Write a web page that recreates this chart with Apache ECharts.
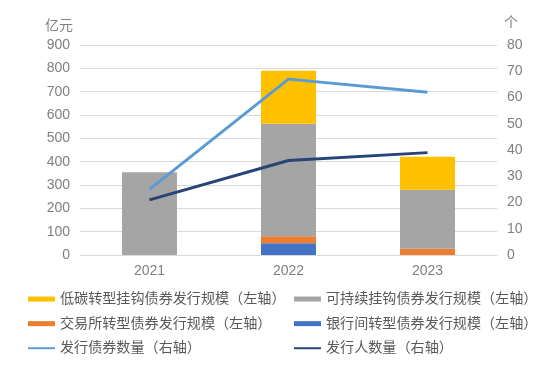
<!DOCTYPE html>
<html><head><meta charset="utf-8">
<script src="https://cdn.jsdelivr.net/npm/echarts@6/dist/echarts.min.js"></script>
<style>html,body{margin:0;padding:0;background:#fff}#c{width:550px;height:370px}</style>
</head><body><div id="c"></div>
<script>
var categories = ['2021', '2022', '2023'];
var bankSize = [0, 50, 0];          // 银行间转型债券发行规模（左轴）
var exchangeSize = [0, 30, 27];     // 交易所转型债券发行规模（左轴）
var sustainSize = [355, 483, 253];  // 可持续挂钩债券发行规模（左轴）
var lowCarbonSize = [0, 227, 141];  // 低碳转型挂钩债券发行规模（左轴）
var bondCount = [25, 67, 62];       // 发行债券数量（右轴）
var issuerCount = [21, 36, 39];     // 发行人数量（右轴）

var FONT = 'Liberation Sans, Noto Sans CJK SC, sans-serif';
var names = {
  low: '低碳转型挂钩债券发行规模（左轴）',
  sus: '可持续挂钩债券发行规模（左轴）',
  exc: '交易所转型债券发行规模（左轴）',
  bank: '银行间转型债券发行规模（左轴）',
  bond: '发行债券数量（右轴）',
  iss: '发行人数量（右轴）'
};
var chart = echarts.init(document.getElementById('c'), null, {renderer: 'canvas'});
var legendText = {color: '#595959', fontSize: 14.1, fontFamily: FONT, lineHeight: 14};
var hideSym = {opacity: 0};
chart.setOption({
  animation: false,
  textStyle: {fontFamily: FONT},
  grid: {left: 80, right: 53, top: 45, bottom: 115},
  legend: [
    {orient: 'vertical', left: 27, top: 292, padding: 0, itemWidth: 27, itemHeight: 5, itemGap: 10.5,
     textStyle: legendText,
     data: [{name: names.low, icon: 'rect'}, {name: names.exc, icon: 'rect'}, {name: names.bond, itemStyle: hideSym}]},
    {orient: 'vertical', left: 293, top: 292, padding: 0, itemWidth: 27, itemHeight: 5, itemGap: 10.5,
     textStyle: legendText,
     data: [{name: names.sus, icon: 'rect'}, {name: names.bank, icon: 'rect'}, {name: names.iss, itemStyle: hideSym}]}
  ],
  xAxis: {
    type: 'category', data: categories,
    axisLine: {lineStyle: {color: '#d9d9d9', width: 1}},
    axisTick: {show: false},
    axisLabel: {color: '#7f7f7f', fontSize: 14, margin: 9, fontFamily: FONT}
  },
  yAxis: [
    {type: 'value', min: 0, max: 900, interval: 100, name: '亿元',
     nameGap: 12, nameTextStyle: {color: '#7f7f7f', fontSize: 14, align: 'right', padding: [0, 7, 0, 0], fontFamily: FONT},
     axisLabel: {color: '#7f7f7f', fontSize: 14, margin: 10, fontFamily: FONT},
     splitLine: {lineStyle: {color: '#d9d9d9', width: 1}},
     axisLine: {show: false}, axisTick: {show: false}},
    {type: 'value', min: 0, max: 80, interval: 10, name: '个', position: 'right',
     nameGap: 15, nameTextStyle: {color: '#7f7f7f', fontSize: 14, align: 'left', padding: [0, 0, 0, 7], fontFamily: FONT},
     axisLabel: {color: '#7f7f7f', fontSize: 14, margin: 10, fontFamily: FONT},
     splitLine: {show: false}, axisLine: {show: false}, axisTick: {show: false}}
  ],
  series: [
    {name: names.bank, type: 'bar', stack: 'a', barWidth: 55, data: bankSize, itemStyle: {color: '#4472C4'}},
    {name: names.exc, type: 'bar', stack: 'a', barWidth: 55, data: exchangeSize, itemStyle: {color: '#ED7D31'}},
    {name: names.sus, type: 'bar', stack: 'a', barWidth: 55, data: sustainSize, itemStyle: {color: '#A5A5A5'}},
    {name: names.low, type: 'bar', stack: 'a', barWidth: 55, data: lowCarbonSize, itemStyle: {color: '#FFC000'}},
    {name: names.bond, type: 'line', yAxisIndex: 1, data: bondCount, symbol: 'none',
     lineStyle: {color: '#5B9BD5', width: 3}, itemStyle: {color: '#5B9BD5'}},
    {name: names.iss, type: 'line', yAxisIndex: 1, data: issuerCount, symbol: 'none',
     lineStyle: {color: '#264478', width: 3}, itemStyle: {color: '#264478'}}
  ]
});
</script></body></html>
